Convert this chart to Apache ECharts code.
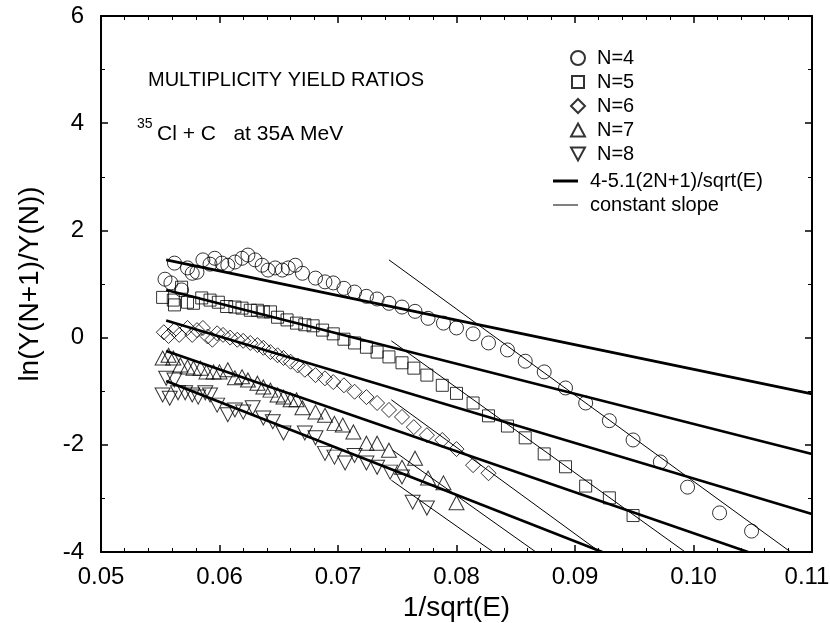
<!DOCTYPE html>
<html><head><meta charset="utf-8">
<script src="https://cdn.jsdelivr.net/npm/echarts@6/dist/echarts.min.js"></script>
<style>html,body{margin:0;padding:0;background:#fff}#c{width:830px;height:623px}</style>
</head><body><div id="c"></div><script>
// ---- data ----
const seriesNames = ['N=4', 'N=5', 'N=6', 'N=7', 'N=8'];
const fitName = '4-5.1(2N+1)/sqrt(E)';
const slopeName = 'constant slope';
const xTickLabels = ['0.05', '0.06', '0.07', '0.08', '0.09', '0.10', '0.11'];
const yTickLabels = ['-4', '-2', '0', '2', '4', '6'];

const n4 = [[0.0554,1.09],[0.0559,1.02],[0.0562,1.39],[0.0568,0.89],[0.0573,1.30],[0.0577,1.20],[0.0581,1.22],[0.0586,1.45],[0.0592,1.37],[0.0596,1.48],[0.0602,1.39],[0.0607,1.35],[0.0613,1.41],[0.0619,1.48],[0.0624,1.54],[0.0630,1.45],[0.0636,1.35],[0.0641,1.26],[0.0647,1.30],[0.0653,1.26],[0.0658,1.30],[0.0664,1.35],[0.0670,1.20],[0.0681,1.11],[0.0689,1.04],[0.0696,1.02],[0.0705,0.92],[0.0714,0.85],[0.0724,0.77],[0.0733,0.72],[0.0743,0.64],[0.0754,0.57],[0.0765,0.49],[0.0776,0.36],[0.0789,0.27],[0.0800,0.18],[0.0814,0.07],[0.0827,-0.10],[0.0843,-0.23],[0.0858,-0.44],[0.0874,-0.64],[0.0892,-0.94],[0.0909,-1.22],[0.0929,-1.55],[0.0949,-1.91],[0.0972,-2.32],[0.0995,-2.79],[0.1022,-3.27],[0.1049,-3.61]];
const n5 = [[0.0552,0.75],[0.0561,0.70],[0.0562,0.61],[0.0568,0.94],[0.0573,0.66],[0.0578,0.64],[0.0585,0.74],[0.0592,0.70],[0.0599,0.66],[0.0606,0.58],[0.0613,0.57],[0.0619,0.55],[0.0626,0.51],[0.0632,0.51],[0.0637,0.48],[0.0643,0.48],[0.0649,0.38],[0.0657,0.33],[0.0665,0.27],[0.0672,0.24],[0.0679,0.22],[0.0687,0.14],[0.0696,0.07],[0.0705,-0.03],[0.0714,-0.10],[0.0724,-0.18],[0.0733,-0.27],[0.0743,-0.36],[0.0754,-0.47],[0.0764,-0.57],[0.0775,-0.70],[0.0788,-0.89],[0.0800,-1.04],[0.0814,-1.22],[0.0827,-1.46],[0.0843,-1.65],[0.0858,-1.87],[0.0874,-2.17],[0.0892,-2.41],[0.0909,-2.77],[0.0929,-2.99],[0.0949,-3.32]];
const n6 = [[0.0553,0.10],[0.0557,0.03],[0.0562,0.14],[0.0566,0.05],[0.0573,0.18],[0.0577,0.05],[0.0581,0.14],[0.0586,0.18],[0.0590,0.02],[0.0594,-0.04],[0.0598,0.08],[0.0603,0.05],[0.0609,0.00],[0.0615,-0.04],[0.0620,-0.06],[0.0626,-0.10],[0.0632,-0.14],[0.0637,-0.19],[0.0643,-0.27],[0.0649,-0.33],[0.0654,-0.38],[0.0660,-0.45],[0.0666,-0.52],[0.0672,-0.60],[0.0681,-0.70],[0.0689,-0.76],[0.0696,-0.83],[0.0705,-0.89],[0.0714,-1.01],[0.0724,-1.11],[0.0733,-1.22],[0.0743,-1.35],[0.0754,-1.48],[0.0764,-1.67],[0.0775,-1.82],[0.0788,-1.91],[0.0800,-2.08],[0.0814,-2.38],[0.0827,-2.53]];
const n7 = [[0.0552,-0.38],[0.0557,-0.33],[0.0561,-0.38],[0.0567,-0.51],[0.0573,-0.55],[0.0578,-0.57],[0.0584,-0.57],[0.0589,-0.64],[0.0595,-0.64],[0.0600,-0.64],[0.0607,-0.60],[0.0613,-0.75],[0.0619,-0.73],[0.0624,-0.79],[0.0632,-0.85],[0.0637,-0.92],[0.0643,-0.98],[0.0649,-1.07],[0.0654,-1.11],[0.0660,-1.16],[0.0665,-1.16],[0.0670,-1.31],[0.0681,-1.39],[0.0689,-1.45],[0.0697,-1.60],[0.0704,-1.63],[0.0713,-1.76],[0.0724,-1.97],[0.0733,-1.97],[0.0743,-2.10],[0.0754,-2.42],[0.0765,-2.25],[0.0776,-2.62],[0.0789,-2.71],[0.0800,-3.08]];
const n8 = [[0.0555,-0.76],[0.0562,-0.79],[0.0552,-1.07],[0.0558,-1.13],[0.0565,-1.03],[0.0571,-1.03],[0.0577,-1.07],[0.0582,-1.11],[0.0588,-1.03],[0.0592,-1.07],[0.0598,-1.26],[0.0607,-1.44],[0.0613,-1.35],[0.0620,-1.39],[0.0628,-1.31],[0.0637,-1.50],[0.0645,-1.57],[0.0654,-1.78],[0.0672,-1.78],[0.0681,-1.87],[0.0689,-2.16],[0.0697,-2.23],[0.0706,-2.34],[0.0714,-2.20],[0.0724,-2.34],[0.0733,-2.42],[0.0744,-2.51],[0.0754,-2.60],[0.0763,-3.07],[0.0775,-3.18]];

// thick lines 4-5.1(2N+1)/sqrt(E), endpoints [x,y]
const fitN4 = [[0.0555,1.45],[0.11,-1.05]];
const fitN5 = [[0.0555,0.89],[0.11,-2.17]];
const fitN6 = [[0.0555,0.32],[0.11,-3.29]];
const fitN7 = [[0.0555,-0.25],[0.1046,-4]];
const fitN8 = [[0.0555,-0.81],[0.0923,-4]];
// thin constant-slope lines
const slopeN4 = [[0.0743,1.45],[0.1082,-4]];
const slopeN5 = [[0.0745,-0.06],[0.0993,-4]];
const slopeN6 = [[0.0745,-1.16],[0.0921,-4]];
const slopeN7 = [[0.0746,-2.10],[0.0867,-4]];
const slopeN8 = [[0.0745,-2.66],[0.0831,-4]];

// ---- styling ----
const FONT = '"Liberation Sans", Arial, Helvetica, sans-serif';
const pointSets = [n4, n5, n6, n7, n8];
const symbols = ['circle', 'rect', 'diamond', 'triangle', 'triangle'];
const rotations = [0, 0, 0, 0, 180];
const sizes = [14, 12, 15, [15, 14], [15, 14]];
const legendIcons = ['circle', 'rect', 'diamond', 'triangle', 'path://M0,0L14,0L7,13Z'];
const fits = [fitN4, fitN5, fitN6, fitN7, fitN8];
const slopes = [slopeN4, slopeN5, slopeN6, slopeN7, slopeN8];

const series = [];
pointSets.forEach((d, i) => {
  series.push({
    name: seriesNames[i], type: 'scatter', data: d,
    symbol: symbols[i], symbolSize: sizes[i], symbolRotate: rotations[i],
    itemStyle: { color: 'rgba(0,0,0,0)', borderColor: '#000', borderWidth: 1 },
    emphasis: { disabled: true }, silent: true, z: 3
  });
});
fits.forEach(d => series.push({
  name: fitName, type: 'line', data: d, symbol: 'none', showSymbol: false,
  lineStyle: { color: '#000', width: 2.6 }, itemStyle: { color: '#000' },
  emphasis: { disabled: true }, silent: true, z: 2
}));
slopes.forEach(d => series.push({
  name: slopeName, type: 'line', data: d, symbol: 'none', showSymbol: false,
  lineStyle: { color: '#000', width: 1 }, itemStyle: { color: '#000' },
  emphasis: { disabled: true }, silent: true, z: 2
}));

const legendRows = [
  { name: 'N=4', icon: legendIcons[0], left: 570, cy: 56, w: 14, h: 14, pad: 7 },
  { name: 'N=5', icon: legendIcons[1], left: 571, cy: 80, w: 12, h: 12, pad: 8 },
  { name: 'N=6', icon: legendIcons[2], left: 570, cy: 104, w: 14, h: 14, pad: 7 },
  { name: 'N=7', icon: legendIcons[3], left: 570, cy: 128, w: 14, h: 13, pad: 7 },
  { name: 'N=8', icon: legendIcons[4], left: 570, cy: 152, w: 14, h: 13, pad: 7 },
  { name: fitName, icon: 'rect', left: 553, cy: 179, w: 25, h: 3, pad: 7 },
  { name: slopeName, icon: 'rect', left: 553, cy: 203, w: 25, h: 1, pad: 7 }
];
const legends = legendRows.map(r => ({
  data: [{ name: r.name, icon: r.icon }], left: r.left, top: r.cy - 8, orient: 'vertical',
  itemWidth: r.w, itemHeight: r.h, padding: 0, selectedMode: false,
  textStyle: { fontFamily: FONT, fontSize: 20, color: '#000', lineHeight: 16, padding: [0, 0, 0, r.pad] }
}));

const axisCommon = {
  axisLine: { show: true, onZero: false, lineStyle: { color: '#000', width: 2 } },
  axisTick: { show: true, inside: true, length: 7, lineStyle: { color: '#000', width: 1.5 } },
  minorTick: { show: true, length: 4, lineStyle: { color: '#000', width: 1 } },
  splitLine: { show: false }
};

const option = {
  animation: false,
  backgroundColor: '#fff',
  grid: { left: 101, right: 18, top: 16, bottom: 71, containLabel: false, outerBoundsMode: 'none' },
  legend: legends,
  xAxis: [
    Object.assign({}, axisCommon, {
      type: 'value', min: 0.05, max: 0.11, interval: 0.01, position: 'bottom',
      minorTick: Object.assign({}, axisCommon.minorTick, { splitNumber: 5 }),
      axisLabel: { margin: 13, fontFamily: FONT, fontSize: 24, color: '#000',
        formatter: v => {
          const i = Math.round((v - 0.05) / 0.01);
          return i === xTickLabels.length - 1 ? '{last|' + xTickLabels[i] + '}' : xTickLabels[i];
        },
        rich: { last: { fontFamily: FONT, fontSize: 24, color: '#000', padding: [0, 10, 0, 0] } } },
      name: '1/sqrt(E)', nameLocation: 'middle', nameGap: 37,
      nameTextStyle: { fontFamily: FONT, fontSize: 28, color: '#000' }
    }),
    Object.assign({}, axisCommon, {
      type: 'value', min: 0.05, max: 0.11, interval: 0.01, position: 'top',
      minorTick: Object.assign({}, axisCommon.minorTick, { splitNumber: 5 }),
      axisLabel: { show: false }
    })
  ],
  yAxis: [
    Object.assign({}, axisCommon, {
      type: 'value', min: -4, max: 6, interval: 2, position: 'left',
      minorTick: Object.assign({}, axisCommon.minorTick, { splitNumber: 2 }),
      axisLabel: { margin: 17, fontFamily: FONT, fontSize: 24, color: '#000',
        formatter: v => yTickLabels[Math.round((v + 4) / 2)] },
      name: 'ln(Y(N+1)/Y(N))', nameLocation: 'middle', nameGap: 57, nameRotate: 90,
      nameTextStyle: { fontFamily: FONT, fontSize: 28, color: '#000' }
    }),
    Object.assign({}, axisCommon, {
      type: 'value', min: -4, max: 6, interval: 2, position: 'right',
      minorTick: Object.assign({}, axisCommon.minorTick, { splitNumber: 2 }),
      axisLabel: { show: false }
    })
  ],
  graphic: [
    { type: 'text', left: 148, top: 70, silent: true,
      style: { text: 'MULTIPLICITY YIELD RATIOS', font: '20px ' + FONT, fill: '#000' } },
    { type: 'text', left: 137, top: 117, silent: true,
      style: { text: '35', font: '14px ' + FONT, fill: '#000' } },
    { type: 'text', left: 157, top: 124, silent: true,
      style: { text: 'Cl + C   at 35A MeV', font: '21px ' + FONT, fill: '#000' } }
  ],
  series: series
};

const chart = echarts.init(document.getElementById('c'), null, { renderer: 'canvas' });
chart.setOption(option);
</script></body></html>
